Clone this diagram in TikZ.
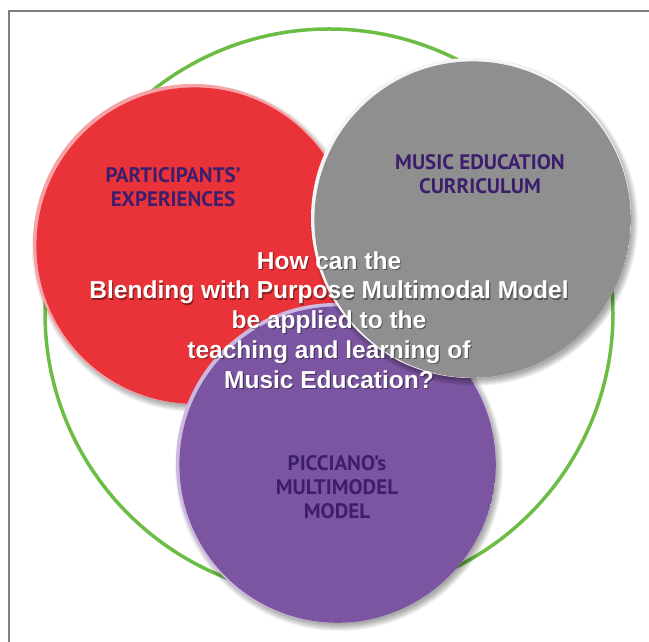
\documentclass[tikz,border=0pt]{standalone}
\usepackage{fontspec}
\setmainfont{Liberation Sans}
\newfontfamily\labelfont{PT Sans}
\usetikzlibrary{calc}
\definecolor{cred}{HTML}{EA3338}
\definecolor{credlight}{HTML}{F5A3A6}
\definecolor{cgray}{HTML}{8F8F8F}
\definecolor{cgraylight}{HTML}{F4F4F4}
\definecolor{cpurple}{HTML}{7B55A1}
\definecolor{cpurplelight}{HTML}{CDB8E0}
\definecolor{cgreen}{HTML}{6CBD45}
\definecolor{ctext}{HTML}{3D1E6D}
\definecolor{cframe}{HTML}{7F7F7F}
\newcommand\softshadow[2]{%
  \foreach \i in {0,...,7} {\fill[black, opacity=0.05] ($(#1)+(3,-4)$) circle ({#2+4-\i});}%
}
\newcommand\shinydisc[4]{%
  \fill[#4] (#1) circle (#2);
  \begin{scope}
    \clip (#1) circle (#2);
    \fill[#3] ($(#1)+(1.6,-1.6)$) circle ({#2-1.8});
  \end{scope}
}
\begin{document}
\begin{tikzpicture}[x=1pt,y=1pt,
  labeltext/.style={font=\labelfont\bfseries\fontsize{21}{24}\selectfont, text=ctext, align=center, inner sep=0},
  questiontext/.style={font=\bfseries\fontsize{24.5}{29.8}\selectfont, align=center, inner sep=0}]
\useasboundingbox (0,0) rectangle (649,642);
\draw[cframe, line width=1.5] (9,0) -- (9,631) -- (649,631);
\coordinate (cg) at (329,329);
\coordinate (cr) at (193,398);
\coordinate (cp) at (336,179);
\coordinate (cy) at (471,424);
\draw[cgreen, line width=3.5] (cg) circle (284);
\softshadow{cr}{160}
\shinydisc{cr}{160}{cred}{credlight}
\softshadow{cp}{160}
\shinydisc{cp}{160}{cpurple}{cpurplelight}
\softshadow{cy}{160}
\shinydisc{cy}{160}{cgray}{cgraylight}
\node[labeltext] (lred) at (173,455) {PARTICIPANTS’\\EXPERIENCES};
\node[labeltext] (lgray) at (480,468) {MUSIC EDUCATION\\CURRICULUM};
\node[labeltext] (lpurple) at (337,155) {PICCIANO’s\\MULTIMODEL\\MODEL};
\node[questiontext, text=black, opacity=0.4] (qshadow) at (330.2,320.8) {How can the\\Blending with Purpose Multimodal Model\\be applied to the\\teaching and learning of\\Music Education?};
\node[questiontext, text=white] (question) at (329,322) {How can the\\Blending with Purpose Multimodal Model\\be applied to the\\teaching and learning of\\Music Education?};
\end{tikzpicture}
\end{document}
